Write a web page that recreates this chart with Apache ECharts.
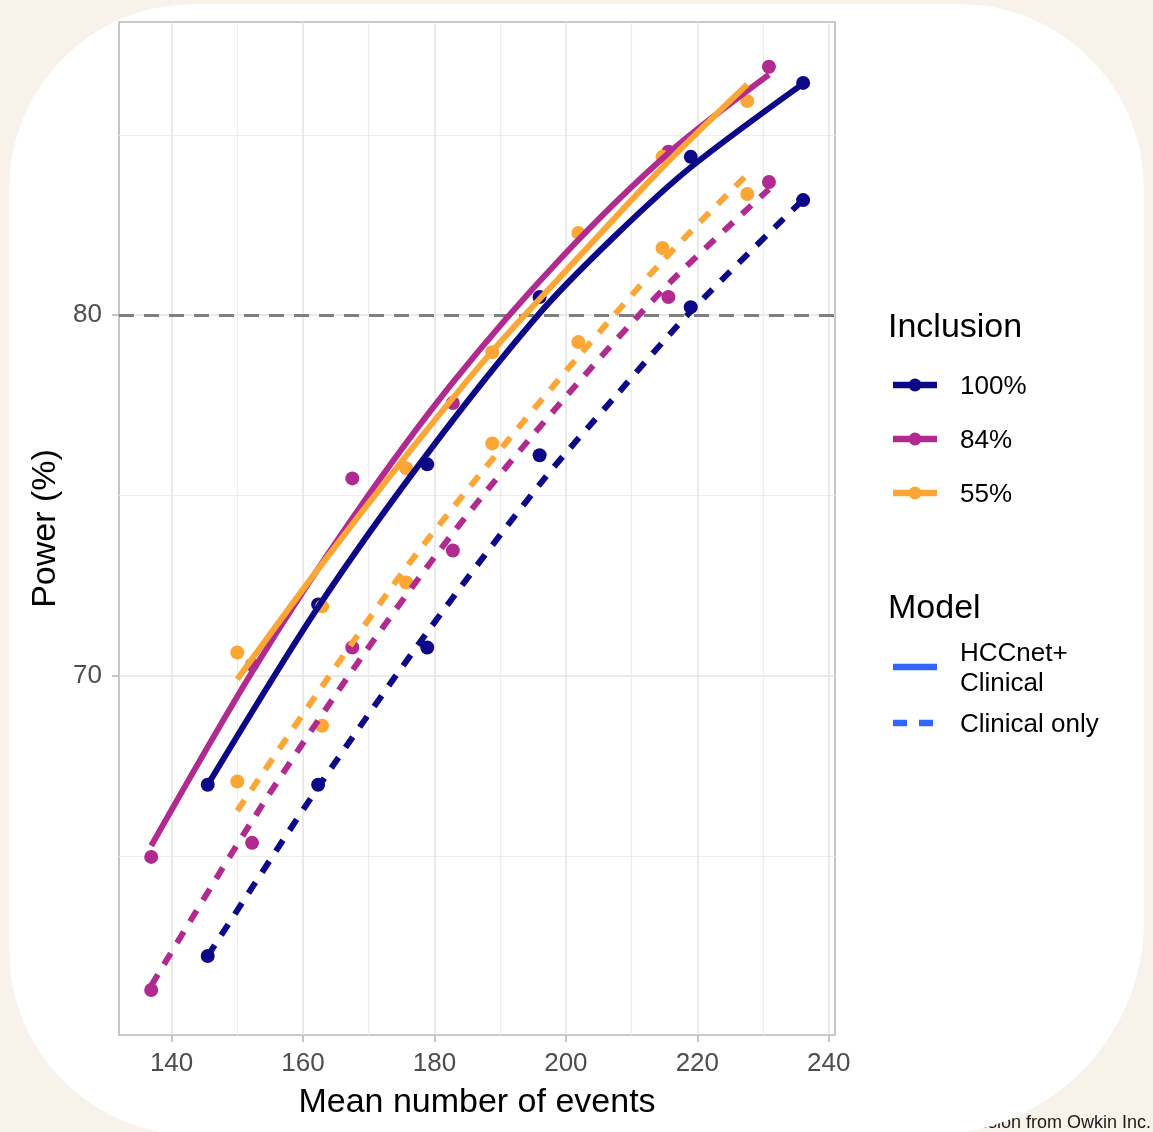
<!DOCTYPE html>
<html>
<head>
<meta charset="utf-8">
<script src="https://cdn.jsdelivr.net/npm/echarts@6/dist/echarts.min.js"></script>
<style>
  html, body { margin: 0; padding: 0; background: #f8f2eb; }
  #chart { width: 1153px; height: 1132px; }
</style>
</head>
<body>
<div id="chart"></div>
<script>
// ---- data: simulated power vs. mean number of events ----
const xMajorTicks = [140, 160, 180, 200, 220, 240];
const xMinorTicks = [150, 170, 190, 210, 230];
const yMajorTicks = [70, 80];
const yMinorTicks = [65, 75, 85];
const powerTarget = 80;

const inclusionLabels = ['100%', '84%', '55%'];
const modelLabels = ['HCCnet+\nClinical', 'Clinical only'];

// 100% inclusion
const events100 = [145.5, 162.3, 178.9, 196.0, 219.0, 236.1];
const combined100 = [66.97, 71.97, 75.86, 80.5, 84.39, 86.44];
const clinical100 = [62.22, 66.97, 70.78, 76.11, 80.22, 83.19];
const fitEvents100 = [145.5, 162.3, 178.9, 196.0, 207.5, 219.0, 236.1];
const fitCombined100 = [66.97, 71.9, 76.15, 80.05, 82.2, 84.1, 86.42];
const fitClinical100 = [62.22, 66.9, 71.2, 75.3, 77.74, 80.1, 83.2];

// 84% inclusion
const events84 = [136.9, 152.25, 167.5, 182.8, 215.6, 230.9];
const combined84 = [64.97, 70.3, 75.47, 77.56, 84.53, 86.89];
const clinical84 = [61.28, 65.36, 70.78, 73.47, 80.5, 83.69];
const fitEvents84 = [136.9, 152.25, 167.5, 182.8, 199.2, 215.6, 230.9];
const fitCombined84 = [65.28, 70.1, 74.36, 78.13, 81.57, 84.49, 86.67];
const fitClinical84 = [61.4, 65.97, 70.14, 73.95, 77.57, 80.86, 83.49];

// 55% inclusion
const events55 = [150.0, 162.9, 175.7, 188.8, 201.9, 214.7, 227.6];
const combined55 = [70.64, 71.92, 75.75, 78.97, 82.28, 84.39, 85.94];
const clinical55 = [67.06, 68.61, 72.58, 76.44, 79.25, 81.86, 83.36];
const fitCombined55 = [69.9, 73.1, 76.1, 79.0, 81.6, 84.1, 86.4];
const fitClinical55 = [66.25, 69.7, 73.0, 76.0, 78.85, 81.5, 83.9];

// ---- styling ----
const FONT = '"Liberation Sans", Arial, Helvetica, sans-serif';
const colors = ['#0D0887', '#B12A90', '#FCA636'];
const modelKeyColor = '#3366FF';
const dashPattern = [13, 12];
const X_MIN = 132.0, X_MAX = 240.95;
const Y_MIN = 60.03, Y_MAX = 88.13;

function pairs(xs, ys) { return xs.map((x, i) => [x, ys[i]]); }

const groups = [
  { pts: [events100, combined100, clinical100], fit: [fitEvents100, fitCombined100, fitClinical100] },
  { pts: [events84, combined84, clinical84], fit: [fitEvents84, fitCombined84, fitClinical84] },
  { pts: [events55, combined55, clinical55], fit: [events55, fitCombined55, fitClinical55] }
];

const series = [];
// points first, fitted curves on top
groups.forEach((g, i) => {
  series.push({
    type: 'scatter', name: inclusionLabels[i], symbol: 'circle', symbolSize: 14,
    itemStyle: { color: colors[i], opacity: 1 }, z: 2, silent: true,
    data: pairs(g.pts[0], g.pts[1]).concat(pairs(g.pts[0], g.pts[2]))
  });
});
groups.forEach((g, i) => {
  series.push({
    type: 'line', name: inclusionLabels[i] + ' combined', smooth: 0.3,
    showSymbol: false, z: 3, silent: true,
    lineStyle: { color: colors[i], width: 6, type: 'solid' },
    data: pairs(g.fit[0], g.fit[1])
  });
  series.push({
    type: 'line', name: inclusionLabels[i] + ' clinical', smooth: 0.3,
    showSymbol: false, z: 3, silent: true,
    lineStyle: { color: colors[i], width: 6, type: dashPattern },
    data: pairs(g.fit[0], g.fit[2])
  });
});
// reference line at 80 % power
series[0].markLine = {
  silent: true, symbol: 'none', label: { show: false }, z: 1,
  lineStyle: { color: '#7f7f7f', width: 3, type: [15, 10] },
  data: [{ yAxis: powerTarget }]
};

// ---- legend drawn as graphics ----
const legendEls = [];
const textStyle = (t, size, x, y) => ({
  type: 'text', x: x, y: y, z: 10,
  style: { text: t, font: size + 'px ' + FONT, fill: '#000', verticalAlign: 'middle', align: 'left' }
});
legendEls.push(textStyle('Inclusion', 34, 888, 328));
const incY = [387, 441, 495];
inclusionLabels.forEach((lab, i) => {
  legendEls.push({ type: 'line', z: 10, shape: { x1: 893, y1: incY[i] - 2, x2: 937, y2: incY[i] - 2 },
    style: { stroke: colors[i], lineWidth: 6.5 } });
  legendEls.push({ type: 'circle', z: 11, shape: { cx: 915, cy: incY[i] - 2, r: 6.5 },
    style: { fill: colors[i] } });
  legendEls.push(textStyle(lab, 26, 960, incY[i]));
});
legendEls.push(textStyle('Model', 34, 888, 609));
legendEls.push({ type: 'line', z: 10, shape: { x1: 893, y1: 667, x2: 937, y2: 667 },
  style: { stroke: modelKeyColor, lineWidth: 6.5 } });
const hccText = textStyle(modelLabels[0], 26, 960, 669);
hccText.style.lineHeight = 30;
legendEls.push(hccText);
legendEls.push({ type: 'line', z: 10, shape: { x1: 893, y1: 723, x2: 937, y2: 723 },
  style: { stroke: modelKeyColor, lineWidth: 6.5, lineDash: [14, 12] } });
legendEls.push(textStyle(modelLabels[1], 26, 960, 725));

const chart = echarts.init(document.getElementById('chart'), null, { renderer: 'canvas' });
chart.setOption({
  animation: false,
  backgroundColor: '#f8f2eb',
  textStyle: { fontFamily: FONT },
  grid: { left: 119, top: 22, width: 716, height: 1013, show: true,
          borderColor: '#b8b8b8', borderWidth: 1.6, backgroundColor: 'transparent', containLabel: false },
  xAxis: [{
    type: 'value', min: X_MIN, max: X_MAX, position: 'bottom',
    axisLine: { show: false },
    axisTick: { show: true, length: 7, customValues: xMajorTicks, lineStyle: { color: '#b3b3b3', width: 1.5 } },
    axisLabel: { customValues: xMajorTicks, color: '#4d4d4d', fontSize: 26, margin: 16, fontFamily: FONT },
    splitLine: { show: true, lineStyle: { color: '#e3e3e3', width: 1.5 } },
    name: 'Mean number of events', nameLocation: 'middle', nameGap: 51,
    nameTextStyle: { color: '#000', fontSize: 34, fontFamily: FONT }
  }, {
    type: 'value', min: X_MIN, max: X_MAX, position: 'bottom',
    axisLine: { show: false },
    axisTick: { show: false, customValues: xMinorTicks },
    axisLabel: { show: false, customValues: xMinorTicks },
    splitLine: { show: true, lineStyle: { color: '#ececec', width: 1.2 } }
  }],
  yAxis: [{
    type: 'value', min: Y_MIN, max: Y_MAX,
    axisLine: { show: false },
    axisTick: { show: true, length: 7, customValues: yMajorTicks, lineStyle: { color: '#b3b3b3', width: 1.5 } },
    axisLabel: { customValues: yMajorTicks, color: '#4d4d4d', fontSize: 26, margin: 17, fontFamily: FONT },
    splitLine: { show: true, lineStyle: { color: '#e3e3e3', width: 1.5 } },
    name: 'Power (%)', nameLocation: 'middle', nameGap: 54, nameRotate: 90,
    nameTextStyle: { color: '#000', fontSize: 34, fontFamily: FONT }
  }, {
    type: 'value', min: Y_MIN, max: Y_MAX, position: 'left',
    axisLine: { show: false },
    axisTick: { show: false, customValues: yMinorTicks },
    axisLabel: { show: false, customValues: yMinorTicks },
    splitLine: { show: true, lineStyle: { color: '#ececec', width: 1.2 } }
  }],
  series: series,
  graphic: [
    { type: 'text', x: 1151, y: 1132, z: -20, silent: true,
      style: { text: 'Reproduced with permission from Owkin Inc.', align: 'right', verticalAlign: 'bottom',
               font: '18px ' + FONT, fill: '#1a1a1a' } },
    { type: 'rect', z: -10, silent: true,
      shape: { x: 9, y: 4, width: 1135, height: 1131, r: [185, 185, 215, 185] },
      style: { fill: '#ffffff' } }
  ].concat(legendEls)
});
</script>
</body>
</html>
